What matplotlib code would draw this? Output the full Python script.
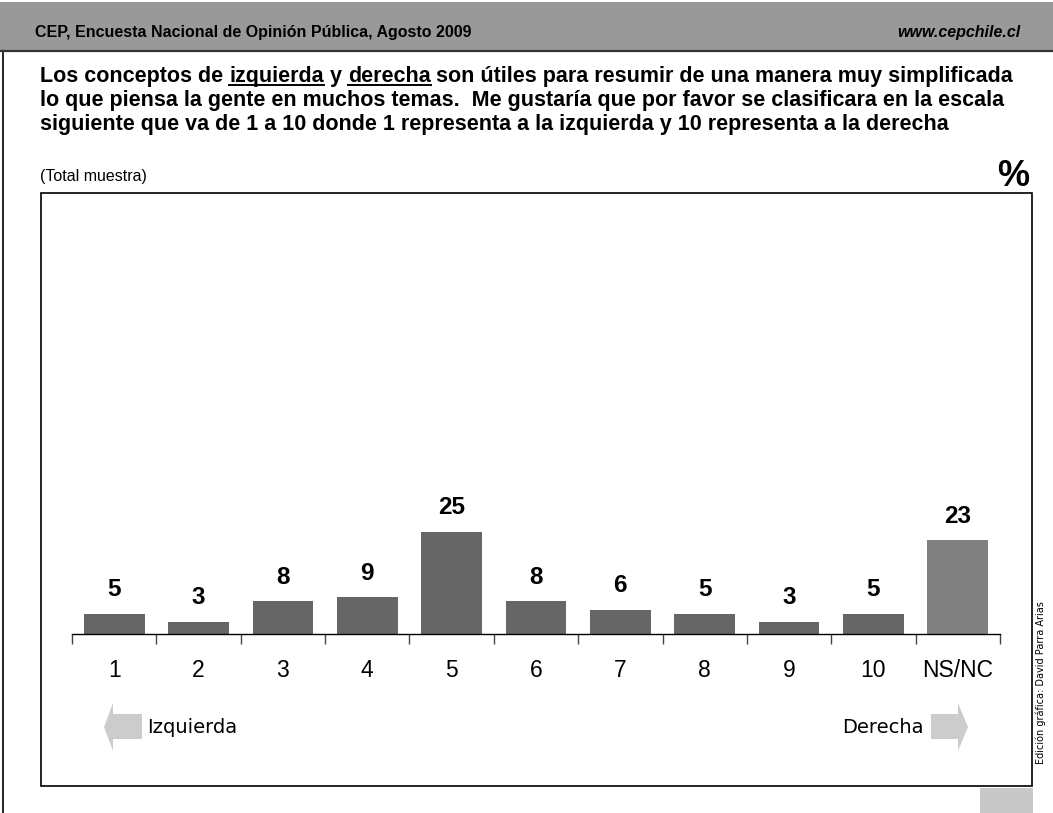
import numpy as np
import matplotlib.pyplot as plt
from matplotlib.patches import Rectangle, Polygon
from matplotlib.lines import Line2D

W, H = 1053, 813

categorias = ['1', '2', '3', '4', '5', '6', '7', '8', '9', '10', 'NS/NC']
valores = [5, 3, 8, 9, 25, 8, 6, 5, 3, 5, 23]
colores = ['#666666'] * 10 + ['#808080']

encabezado = 'CEP, Encuesta Nacional de Opinión Pública, Agosto 2009'
web = 'www.cepchile.cl'
linea1 = ['Los conceptos de ', 'izquierda', ' y ', 'derecha',
          ' son útiles para resumir de una manera muy simplificada']
linea2 = 'lo que piensa la gente en muchos temas.  Me gustaría que por favor se clasificara en la escala'
linea3 = 'siguiente que va de 1 a 10 donde 1 representa a la izquierda y 10 representa a la derecha'


def fx(x):
    return x / W


def fy(y):
    return 1 - y / H


plt.rcParams['font.family'] = ['Liberation Sans', 'DejaVu Sans']
fig = plt.figure(figsize=(W / 100, H / 100), dpi=100)

# encabezado gris
fig.add_artist(Rectangle((0, fy(50)), 1, 48 / H, transform=fig.transFigure,
                         facecolor='#999999', edgecolor='none'))
fig.add_artist(Line2D([0, 1], [fy(51), fy(51)], transform=fig.transFigure,
                      color='#333333', lw=1.6))
fig.add_artist(Line2D([fx(3), fx(3)], [fy(53), 0], transform=fig.transFigure,
                      color='black', lw=1.2))
fig.text(fx(35), fy(33), encabezado, fontsize=11.5, fontweight='bold', va='center')
fig.text(fx(1020), fy(33), web, fontsize=11.5, fontweight='bold', style='italic',
         va='center', ha='right')

# titulo, con subrayado en izquierda / derecha
fig.canvas.draw()
renderer = fig.canvas.get_renderer()
x = fx(40)
for k, parte in enumerate(linea1):
    t = fig.text(x, fy(82), parte, fontsize=15.5, fontweight='bold', va='baseline')
    bb = t.get_window_extent(renderer).transformed(fig.transFigure.inverted())
    if k in (1, 3):
        fig.add_artist(Line2D([bb.x0, bb.x1], [fy(85.5), fy(85.5)],
                              transform=fig.transFigure, color='black', lw=1.4))
    x = bb.x1
fig.text(fx(40), fy(106), linea2, fontsize=15.5, fontweight='bold', va='baseline')
fig.text(fx(40), fy(130), linea3, fontsize=15.5, fontweight='bold', va='baseline')

fig.text(fx(40), fy(176), '(Total muestra)', fontsize=11.5, va='center')
fig.text(fx(1029), fy(177), '%', fontsize=26, fontweight='bold', va='center', ha='right')

# marco del grafico
fig.add_artist(Rectangle((fx(41), fy(786)), fx(1032 - 41), (786 - 193) / H,
                         transform=fig.transFigure, facecolor='none',
                         edgecolor='black', lw=1.2))
fig.add_artist(Rectangle((fx(980), 0), fx(1033 - 980), (813 - 788) / H,
                         transform=fig.transFigure, facecolor='#c8c8c8',
                         edgecolor='none'))
fig.text(fx(1041), fy(683), 'Edición gráfica: David Parra Arias', fontsize=7,
         rotation=90, va='center', ha='center', family='DejaVu Sans')

# barras
ax = fig.add_axes([fx(72), fy(634), fx(1000 - 72), (634 - 200) / H])
ax.patch.set_alpha(0)
pos = np.arange(len(categorias))
ax.bar(pos, valores, width=0.72, color=colores)
for i, v in enumerate(valores):
    ax.annotate(str(v), (i, v), xytext=(0, 9), textcoords='offset points',
                ha='center', va='bottom', fontsize=17.5, fontweight='bold')
ax.set_xlim(-0.5, len(categorias) - 0.5)
ax.set_ylim(0, 434 / 4.08)
for s in ['top', 'left', 'right']:
    ax.spines[s].set_visible(False)
ax.spines['bottom'].set_linewidth(1.0)
ax.set_yticks([])
ax.set_xticks(np.arange(-0.5, len(categorias)), minor=False)
ax.set_xticklabels([])
ax.set_xticks(pos, minor=True)
ax.set_xticklabels(categorias, minor=True, fontsize=16.5)
ax.tick_params(axis='x', which='major', length=7, width=1, color='#444444')
ax.tick_params(axis='x', which='minor', length=0, pad=18)

# flechas
gris = '#cccccc'
fig.add_artist(Polygon([(fx(104), fy(727)), (fx(113), fy(703)), (fx(113), fy(714)),
                        (fx(142), fy(714)), (fx(142), fy(739)), (fx(113), fy(739)),
                        (fx(113), fy(751))], closed=True, transform=fig.transFigure,
                       facecolor=gris, edgecolor='none'))
fig.add_artist(Polygon([(fx(968), fy(727)), (fx(958), fy(703)), (fx(958), fy(714)),
                        (fx(931), fy(714)), (fx(931), fy(739)), (fx(958), fy(739)),
                        (fx(958), fy(751))], closed=True, transform=fig.transFigure,
                       facecolor=gris, edgecolor='none'))
fig.text(fx(147), fy(727), 'Izquierda', fontsize=14, va='center', family='DejaVu Sans')
fig.text(fx(924), fy(727), 'Derecha', fontsize=14, va='center', ha='right',
         family='DejaVu Sans')

fig.savefig('out.png', dpi=100)
